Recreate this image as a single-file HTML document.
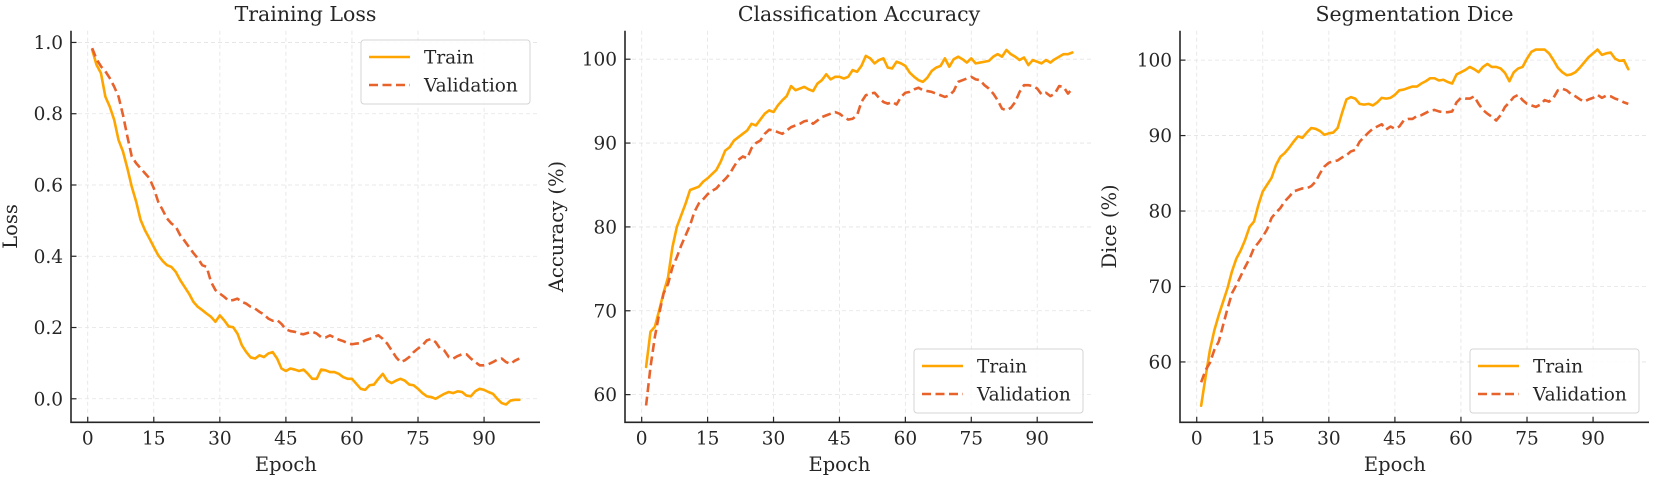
<!DOCTYPE html>
<html><head><meta charset="utf-8"><style>
html,body{margin:0;padding:0;background:#fff}
svg{display:block}
text{font-family:"DejaVu Serif","Liberation Serif",serif;fill:#262626}
</style></head><body>
<svg id="chart" width="1654" height="480" viewBox="0 0 1654 480" xmlns="http://www.w3.org/2000/svg"></svg>
<script>
const xTicks=[0,15,30,45,60,75,90];
const lossTicks=[0.0,0.2,0.4,0.6,0.8,1.0];
const accTicks=[60,70,80,90,100];
const diceTicks=[60,70,80,90,100];
const lossTrain=[0.98,0.937,0.914,0.848,0.82,0.783,0.726,0.694,0.647,0.595,0.553,0.502,0.473,0.45,0.426,0.403,0.387,0.375,0.37,0.356,0.333,0.314,0.295,0.272,0.258,0.249,0.239,0.23,0.216,0.234,0.22,0.203,0.201,0.183,0.15,0.131,0.116,0.113,0.122,0.117,0.127,0.131,0.113,0.085,0.078,0.085,0.082,0.078,0.082,0.07,0.056,0.056,0.082,0.08,0.075,0.075,0.07,0.061,0.056,0.056,0.042,0.028,0.025,0.038,0.04,0.056,0.07,0.051,0.044,0.051,0.056,0.051,0.04,0.038,0.028,0.016,0.007,0.005,0.0,0.007,0.014,0.019,0.016,0.021,0.019,0.009,0.007,0.021,0.028,0.025,0.019,0.014,0.0,-0.012,-0.016,-0.005,-0.003,-0.003];
const lossVal=[0.984,0.953,0.933,0.919,0.9,0.876,0.848,0.797,0.736,0.68,0.661,0.647,0.633,0.619,0.591,0.553,0.53,0.506,0.492,0.483,0.459,0.443,0.426,0.409,0.394,0.375,0.37,0.328,0.305,0.295,0.286,0.275,0.277,0.281,0.272,0.267,0.258,0.253,0.244,0.237,0.225,0.219,0.221,0.21,0.195,0.19,0.188,0.183,0.181,0.185,0.188,0.183,0.173,0.172,0.178,0.172,0.166,0.162,0.156,0.153,0.155,0.156,0.164,0.168,0.173,0.178,0.168,0.155,0.136,0.117,0.103,0.108,0.117,0.131,0.141,0.15,0.164,0.168,0.159,0.141,0.135,0.117,0.113,0.12,0.125,0.125,0.113,0.103,0.094,0.094,0.097,0.103,0.11,0.113,0.103,0.098,0.107,0.113];
const accTrain=[63.3,67.5,68.1,70.1,72.2,74.0,77.6,80.0,81.4,82.8,84.4,84.6,84.8,85.4,85.8,86.3,86.8,87.8,89.1,89.5,90.3,90.7,91.1,91.5,92.3,92.1,92.8,93.5,93.9,93.7,94.5,95.1,95.6,96.8,96.3,96.5,96.7,96.4,96.2,97.1,97.5,98.2,97.6,97.9,97.9,97.7,97.9,98.7,98.5,99.2,100.4,100.1,99.5,99.9,100.1,99.0,98.9,99.7,99.5,99.2,98.4,97.9,97.5,97.3,97.8,98.6,99.0,99.2,100.1,99.1,100.0,100.3,100.0,99.6,100.1,99.5,99.6,99.7,99.8,100.3,100.6,100.3,101.1,100.6,100.3,99.9,100.2,99.3,99.9,99.7,99.5,99.9,99.6,100.0,100.3,100.6,100.6,100.8];
const accVal=[58.7,63.3,66.9,69.7,72.1,73.2,75.2,76.4,77.8,79.0,80.2,81.8,82.8,83.3,83.9,84.3,84.6,85.2,85.7,86.3,87.2,88.0,88.4,88.2,89.4,90.0,90.3,91.1,91.6,91.5,91.3,91.1,91.5,91.9,92.1,92.3,92.6,92.7,92.3,92.7,93.1,93.3,93.5,93.7,93.5,93.1,92.8,92.9,93.3,94.9,95.7,95.9,96.0,95.4,94.9,94.7,94.9,94.6,95.5,96.0,96.1,96.4,96.6,96.3,96.2,96.1,95.9,95.7,95.5,95.7,96.2,97.3,97.5,97.7,97.9,97.6,97.5,96.9,96.5,95.9,95.1,94.1,93.9,94.2,94.9,96.1,96.9,96.9,96.8,96.5,95.8,96.0,95.6,95.9,96.8,96.7,95.9,96.5];
const diceTrain=[54.2,58.0,61.6,64.2,66.2,68.0,69.8,72.0,73.7,74.8,76.2,77.9,78.6,80.8,82.6,83.5,84.4,86.1,87.2,87.7,88.4,89.2,89.9,89.7,90.4,91.0,90.9,90.6,90.1,90.3,90.4,91.0,93.0,94.8,95.1,94.9,94.2,94.1,94.2,94.0,94.4,95.0,94.9,95.0,95.4,96.0,96.1,96.3,96.5,96.5,96.9,97.2,97.6,97.6,97.3,97.4,97.1,96.9,98.1,98.4,98.7,99.1,98.8,98.4,99.1,99.5,99.1,99.1,98.9,98.3,97.2,98.4,98.9,99.1,100.2,101.1,101.4,101.4,101.4,100.9,100.0,99.0,98.4,98.0,98.1,98.4,99.0,99.7,100.4,100.9,101.4,100.7,100.9,101.0,100.2,99.9,100.0,98.8];
const diceVal=[57.3,58.9,59.9,61.6,62.7,64.9,67.1,69.1,70.2,71.4,72.6,73.7,75.1,75.8,76.6,77.6,79.1,79.8,80.4,81.3,81.9,82.6,82.8,83.0,83.0,83.3,83.9,85.0,85.9,86.4,86.6,86.7,87.1,87.4,87.9,88.1,89.2,89.8,90.4,90.9,91.2,91.5,90.8,91.2,90.9,91.2,92.0,92.2,92.2,92.6,92.7,93.0,93.3,93.4,93.2,93.1,93.1,93.2,94.4,95.0,94.9,94.9,95.2,94.2,93.4,92.9,92.5,92.0,92.7,93.8,94.4,95.1,95.4,94.7,94.2,94.0,93.8,94.1,94.7,94.5,95.0,96.0,96.2,96.0,95.5,95.2,94.8,94.5,94.8,95.0,95.4,95.0,95.3,95.2,94.9,94.7,94.4,94.2];

const NS="http://www.w3.org/2000/svg";
const svg=document.getElementById('chart');
function mk(tag,attrs,parent){const e=document.createElementNS(NS,tag);for(const k in attrs)e.setAttribute(k,attrs[k]);(parent||svg).appendChild(e);return e;}
const TOP=30.7,BOT=422.3,XMIN=-3.8,XMAX=102.7;
const TRAIN="#ffa500",VAL="#e8622c";

function panel(o){
  const g=mk('g',{});
  
  
  const xs=v=>o.left+(v-XMIN)/(XMAX-XMIN)*(o.right-o.left);
  const ys=v=>BOT-(v-o.ymin)/(o.ymax-o.ymin)*(BOT-TOP);
  // grid
  xTicks.forEach(t=>{const l=mk('line',{x1:xs(t),x2:xs(t),y1:TOP,y2:BOT,stroke:'#e3e3e3','stroke-width':0.8,'stroke-dasharray':'4,3'},g);
    });
  o.yticks.forEach(t=>{const l=mk('line',{x1:o.left,x2:o.right,y1:ys(t),y2:ys(t),stroke:'#e3e3e3','stroke-width':0.8,'stroke-dasharray':'4,3'},g);
    });
  // series
  function series(arr,color,dash,nm){
    const d=arr.map((v,i)=>(i?'L':'M')+xs(i+1).toFixed(2)+','+ys(v).toFixed(2)).join(' ');
    const p=mk('path',{d:d,fill:'none',stroke:color,'stroke-width':2.6,'stroke-linejoin':'round','stroke-linecap':dash?'butt':'round'},g);
    if(dash)p.setAttribute('stroke-dasharray',dash);
    
  }
  series(o.train,TRAIN,null,'train-line');
  series(o.val,VAL,'9,4.5','validation-line');
  // spines
  const sp=mk('path',{d:`M${o.left},${TOP} L${o.left},${BOT} L${o.right},${BOT}`,fill:'none',stroke:'#262626','stroke-width':1.6},g);
  
  // ticks
  xTicks.forEach(t=>{
    const tk=mk('line',{x1:xs(t),x2:xs(t),y1:BOT,y2:BOT-5.5,stroke:'#262626','stroke-width':1.2},g);
    
    const tx=mk('text',{x:xs(t),y:BOT+22,'text-anchor':'middle','font-size':18.5},g);tx.textContent=t;
    
  });
  o.yticks.forEach(t=>{
    const tk=mk('line',{x1:o.left,x2:o.left+5.5,y1:ys(t),y2:ys(t),stroke:'#262626','stroke-width':1.2},g);
    
    const tx=mk('text',{x:o.left-8,y:ys(t)+6.5,'text-anchor':'end','font-size':18.5},g);tx.textContent=o.fmt(t);
    
  });
  const xl=mk('text',{x:(o.left+o.right)/2+ (xs(45)-(o.left+o.right)/2),y:471,'text-anchor':'middle','font-size':19.5},g);xl.textContent='Epoch';
  
  const yl=mk('text',{x:0,y:0,'text-anchor':'middle','font-size':19.5,transform:`translate(${o.ylx},${(TOP+BOT)/2}) rotate(-90)`},g);yl.textContent=o.ylabel;
  
  const ti=mk('text',{x:(o.left+o.right)/2,y:21,'text-anchor':'middle','font-size':20.5},g);ti.textContent=o.title;
  
  // legend
  const lg=mk('g',{},g);
  
  const lw=169,lh=64,lx=o.right-10-lw,ly=o.legendTop;
  mk('rect',{x:lx,y:ly,width:lw,height:lh,rx:3,fill:'#fff','fill-opacity':0.85,stroke:'#d5d5d5','stroke-width':1},lg);
  [['Train',TRAIN,null,17],['Validation',VAL,'9,4.5',45]].forEach(([lab,c,dash,dy])=>{
    const it=mk('g',{},lg);
    
    
    const ln=mk('line',{x1:lx+8,x2:lx+49,y1:ly+dy,y2:ly+dy,stroke:c,'stroke-width':2.6},it);
    if(dash)ln.setAttribute('stroke-dasharray',dash);
    const t=mk('text',{x:lx+63,y:ly+dy+6.5,'font-size':18.5},it);t.textContent=lab;
  });
}
panel({name:'training-loss-panel',left:71,right:540,ymin:-0.066,ymax:1.033,yticks:lossTicks,fmt:v=>v.toFixed(1),train:lossTrain,val:lossVal,ylabel:'Loss',ylx:17,title:'Training Loss',legendTop:40});
panel({name:'classification-accuracy-panel',left:625,right:1093,ymin:56.7,ymax:103.4,yticks:accTicks,fmt:v=>String(v),train:accTrain,val:accVal,ylabel:'Accuracy (%)',ylx:563,title:'Classification Accuracy',legendTop:349});
panel({name:'segmentation-dice-panel',left:1180,right:1649,ymin:52.0,ymax:103.9,yticks:diceTicks,fmt:v=>String(v),train:diceTrain,val:diceVal,ylabel:'Dice (%)',ylx:1116,title:'Segmentation Dice',legendTop:349});
</script>
</body></html>
